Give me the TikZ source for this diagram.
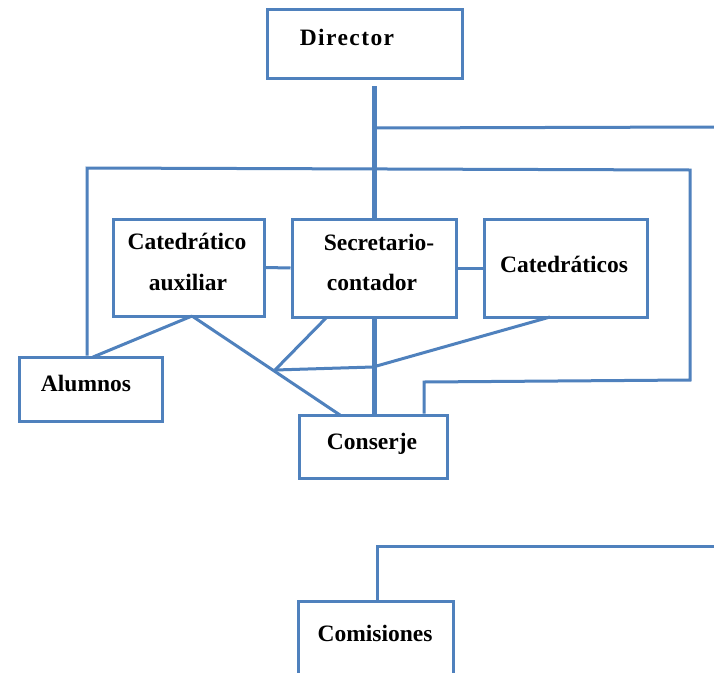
\documentclass[tikz,border=0pt]{standalone}
\usepackage{fontspec}
\setmainfont{Liberation Serif}
\definecolor{lineblue}{HTML}{4F81BD}
\tikzset{
  orgbox/.style={draw=lineblue, line width=3pt, inner sep=0pt, minimum width=#1},
  lbl/.style={font=\fontsize{23.5}{26}\selectfont\bfseries, inner sep=0pt, text height=16pt, text depth=0pt, anchor=center},
  conn/.style={draw=lineblue, line width=3pt},
  thick conn/.style={draw=lineblue, line width=5pt},
}
\begin{document}
\begin{tikzpicture}[x=1pt,y=-1pt]
\useasboundingbox (0,0) rectangle (714,672);
\clip (0,0) rectangle (714,672);
\fill[white] (0,0) rectangle (714,672);
% boxes
\node[orgbox=195pt, minimum height=69pt] (dir) at (364.5,43.5) {};
\node[orgbox=151pt, minimum height=97pt] (aux) at (188.5,267.5) {};
\node[orgbox=164pt, minimum height=98pt] (sec) at (374,268) {};
\node[orgbox=163pt, minimum height=98pt] (cat) at (565.5,268) {};
\node[orgbox=143pt, minimum height=64pt] (alum) at (90.5,389) {};
\node[orgbox=148pt, minimum height=63pt] (cons) at (373,446.5) {};
\node[orgbox=155pt, minimum height=90pt] (com) at (375.5,646) {};
% labels
\node[lbl] (tdir) at (347,37) {\addfontfeature{LetterSpace=6}Director};
\node[lbl] (taux1) at (187,241) {Catedrático};
\node[lbl] (taux2) at (188,282) {auxiliar};
\node[lbl] (tsec1) at (379,242) {Secretario-};
\node[lbl] (tsec2) at (372,282) {contador};
\node[lbl] (tcat) at (564,264) {Catedráticos};
\node[lbl] (talum) at (86,383) {Alumnos};
\node[lbl] (tcons) at (372,441) {Conserje};
\node[lbl] (tcom) at (375,633) {Comisiones};
% coordinates
\coordinate (d1) at (374,86);
\coordinate (br) at (374,128);
\coordinate (brend) at (714,127);
\coordinate (lpTL) at (87,168);
\coordinate (lpTR) at (690,170);
\coordinate (lpBR) at (690,380);
\coordinate (lpBL) at (424,382);
\coordinate (auxb) at (192,316);
\coordinate (J) at (275,370);
\coordinate (J2) at (373,367);
\coordinate (comT) at (377,546);
\coordinate (comEnd) at (714,546);
% director trunk
\draw[thick conn] (d1) -- (sec.north -| d1);
\draw[thick conn] (sec.south -| d1) -- (cons.north -| d1);
\draw[conn] (br) -- (brend);
% big loop
\draw[conn] (alum.north -| lpTL) -- (lpTL) -- (lpTR) -- (lpBR) -- (lpBL) -- (cons.north -| lpBL);
% horizontal links
\draw[conn] (aux.east) -- (sec.west);
\draw[conn] (sec.east) -- (cat.west);
% diagonals
\draw[conn] (auxb) -- (93,357);
\draw[conn] (auxb) -- (340,415);
\draw[conn] (J) -- (327,317);
\draw[conn] (J) -- (J2) -- (550,317);
% comisiones
\draw[conn] (com.north -| comT) -- (comT) -- (comEnd);
\end{tikzpicture}
\end{document}
